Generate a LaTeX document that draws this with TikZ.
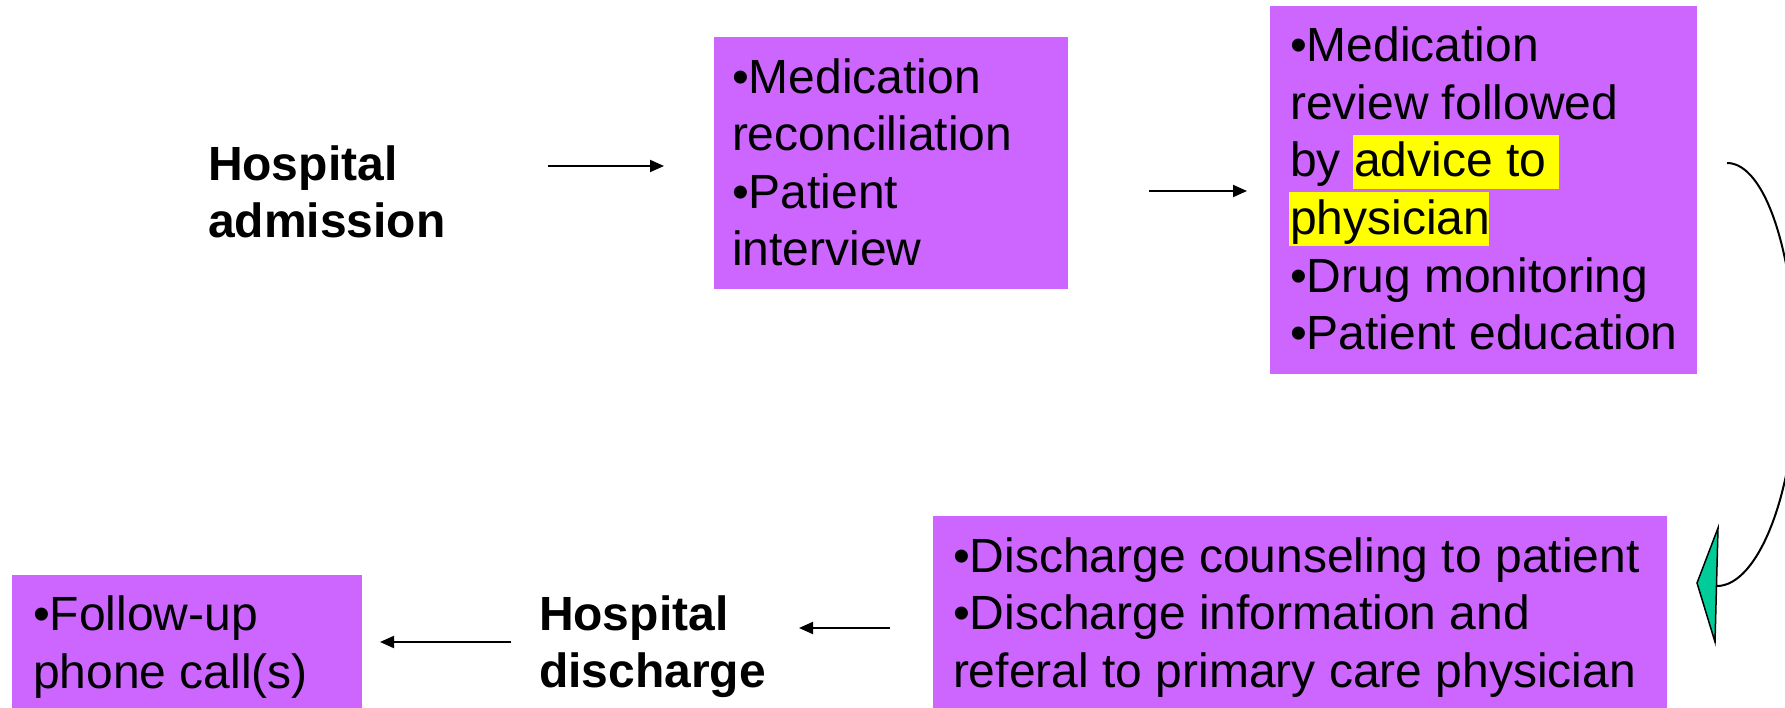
\documentclass[tikz,border=0pt]{standalone}
\usepackage{fontspec}
\setmainfont{Liberation Sans}
\usetikzlibrary{arrows.meta}
\definecolor{boxpurple}{RGB}{204,102,255}
\definecolor{hlyellow}{RGB}{255,255,0}
\definecolor{headgreen}{RGB}{0,204,153}
\tikzset{
  box/.style={fill=boxpurple, draw=none, inner sep=0pt, outer sep=0pt, rectangle, anchor=north west},
  txt/.style={inner sep=0pt, outer sep=0pt, align=left, anchor=base west, font=\fontsize{48}{57.5}\selectfont},
  boldtxt/.style={inner sep=0pt, outer sep=0pt, align=left, anchor=base west, font=\fontsize{48}{57}\selectfont\bfseries},
  flow/.style={line width=2pt, -{Triangle[length=14pt,width=12pt]}},
}
\begin{document}
\begin{tikzpicture}[x=1pt,y=-1pt]
\clip (0,0) rectangle (1785,708);
\fill[white] (0,0) rectangle (1785,708);
% boxes
\node[box, minimum width=354pt, minimum height=252pt] (b2) at (714,37) {};
\node[box, minimum width=427pt, minimum height=368pt] (b3) at (1270,6) {};
\node[box, minimum width=734pt, minimum height=200pt] (b4) at (933,516) {};
\node[box, minimum width=350pt, minimum height=140pt] (b5) at (12,575) {};
% highlights
\fill[hlyellow] (1353,135) rectangle (1559,189);
\fill[hlyellow] (1289,192) rectangle (1489,246);
% texts (anchored at the baseline of the last line)
\node[boldtxt] (adm) at (208,238) {Hospital\\admission};
\node[txt] (t2) at (732,266) {•Medication\\reconciliation\\•Patient\\interview};
\node[txt] (t3) at (1290,349.5) {•Medication\\review followed\\by advice to\\physician\\•Drug monitoring\\•Patient education};
\node[txt] (t4) at (953,687) {•Discharge counseling to patient\\•Discharge information and\\referal to primary care physician};
\node[boldtxt] (dis) at (539,687) {Hospital\\discharge};
\node[txt] (t5) at (33,688) {•Follow-up\\phone call(s)};
% arrows
\coordinate (a1s) at (548,166); \coordinate (a1e) at (664,166);
\coordinate (a2s) at (1149,191); \coordinate (a2e) at (1247,191);
\coordinate (a3s) at (890,628); \coordinate (a3e) at (799,628);
\coordinate (a4s) at (511,642); \coordinate (a4e) at (380,642);
\draw[flow] (a1s) -- (a1e);
\draw[flow] (a2s) -- (a2e);
\draw[flow] (a3s) -- (a3e);
\draw[flow] (a4s) -- (a4e);
% curved connector
\coordinate (cs) at (1727,163);
\coordinate (ce) at (1717,586);
\draw[line width=2pt] (cs) .. controls (1766,163) and (1796,258) .. (1796,375)
  .. controls (1796,492) and (1758,586) .. (ce);
\draw[fill=headgreen, line width=1.5pt, line join=miter] (1697,583) -- (1718,528) -- (1715,642) -- cycle;
\end{tikzpicture}
\end{document}
